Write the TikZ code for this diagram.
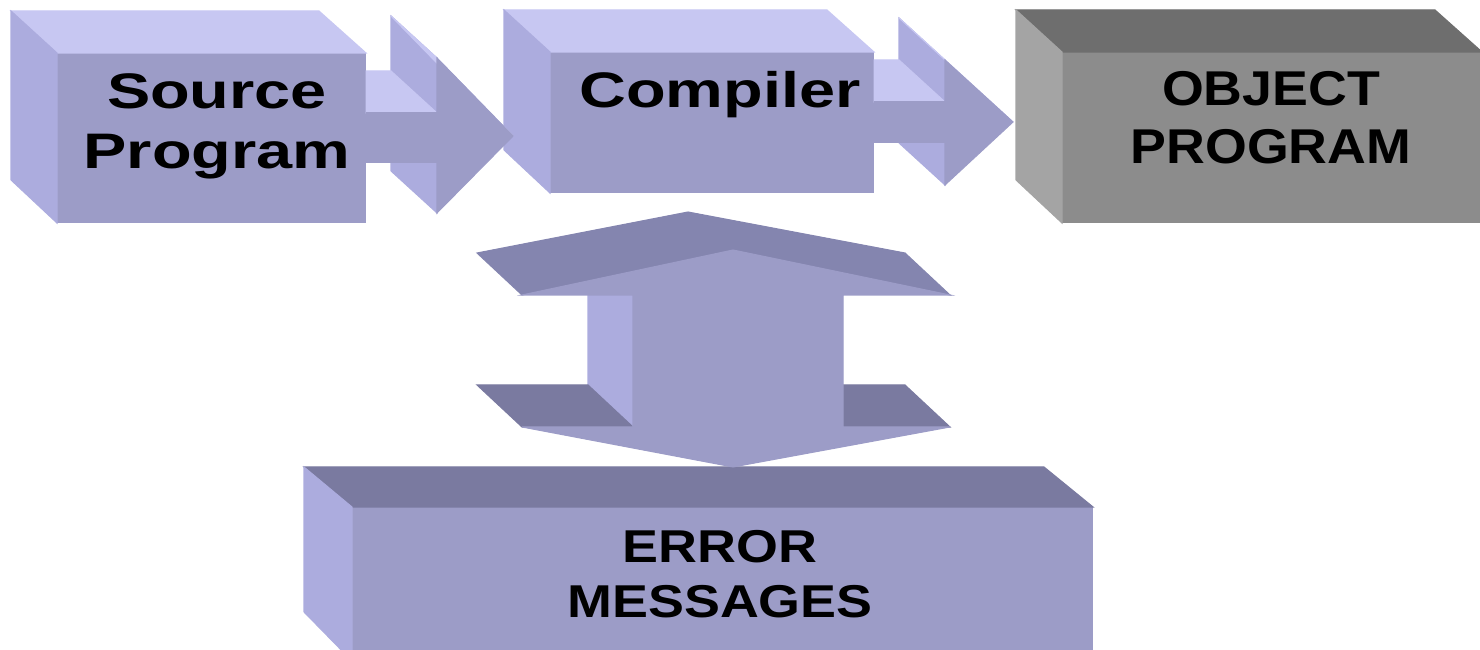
\documentclass[tikz,border=0pt]{standalone}
\usepackage{fontspec}
\setmainfont{Liberation Sans}
\newfontfamily\srcfont[FakeStretch=1.3]{Liberation Sans}
\newfontfamily\objfont[FakeStretch=1.1]{Liberation Sans}
\newfontfamily\errfont[FakeStretch=1.17]{Liberation Sans}

\definecolor{lavfront}{RGB}{156,156,199}
\definecolor{lavtop}{RGB}{199,199,242}
\definecolor{lavside}{RGB}{172,172,222}
\definecolor{lavhead}{RGB}{132,133,175}
\definecolor{lavdark}{RGB}{122,122,160}
\definecolor{greyfront}{RGB}{140,140,140}
\definecolor{greytop}{RGB}{110,110,110}
\definecolor{greyside}{RGB}{164,164,164}

\begin{document}
\begin{tikzpicture}[x=0.1mm,y=-0.1mm,line width=0.3pt,
	face/.style={fill=lavfront, draw=lavfront, inner sep=0pt, anchor=north west},
	bigtext/.style={font=\srcfont\bfseries\fontsize{14.2}{17.1}\selectfont, align=center, inner sep=0pt},
	objtext/.style={font=\objfont\bfseries\fontsize{13.9}{16.5}\selectfont, align=center, inner sep=0pt},
	errtext/.style={font=\errfont\bfseries\fontsize{13.1}{15.65}\selectfont, align=center, inner sep=0pt}]
	\useasboundingbox (0,0) rectangle (1480,650);
	\clip (0,0) rectangle (1480,650);

	% front faces
	\node (src) at (57,53) [face, minimum width=30.8mm, minimum height=16.9mm] {};
	\node (cmp) at (550,52) [face, minimum width=32.3mm, minimum height=14mm] {};
	\node (obj) at (1062,52) [face, fill=greyfront, draw=greyfront, minimum width=41.9mm, minimum height=17mm] {};
	\node (err) at (352,507) [face, minimum width=74mm, minimum height=15.3mm] {};

	% tops and sides
	\filldraw[lavtop] (src.north west) -- (11,11) -- (319,11) -- (src.north east) -- cycle;
	\filldraw[lavside] (src.north west) -- (11,11) -- (11,180) -- (src.south west) -- cycle;
	\filldraw[lavtop] (cmp.north west) -- (504,10) -- (827,10) -- (cmp.north east) -- cycle;
	\filldraw[lavside] (cmp.north west) -- (504,10) -- (504,150) -- (cmp.south west) -- cycle;
	\filldraw[greytop] (obj.north west) -- (1016,10) -- (1435,10) -- (obj.north east) -- cycle;
	\filldraw[greyside] (obj.north west) -- (1016,10) -- (1016,180) -- (obj.south west) -- cycle;
	\filldraw[lavdark] (err.north west) -- (304,467) -- (1044,467) -- (err.north east) -- cycle;
	\filldraw[lavside] (err.north west) -- (304,467) -- (304,612) -- (err.south west) -- cycle;

	% arrow source -> compiler
	\filldraw[lavside] (437,58) -- (391,16) -- (391,171) -- (437,213) -- cycle;
	\filldraw[lavtop] (437,58) -- (513,136) -- (467,94) -- (391,16) -- cycle;
	\filldraw[lavtop] (src.east |- 0,113) -- (437,113) -- (391,71) -- (src.east |- 0,71) -- cycle;
	\filldraw[lavfront] (src.east |- 0,113) rectangle (437,162);
	\filldraw[lavfront] (437,58) -- (513,136) -- (437,213) -- cycle;

	% arrow compiler -> object
	\filldraw[lavside] (945,60) -- (899,18) -- (899,143) -- (945,185) -- cycle;
	\filldraw[lavtop] (945,60) -- (1013,122) -- (967,80) -- (899,18) -- cycle;
	\filldraw[lavtop] (cmp.east |- 0,102) -- (945,102) -- (899,60) -- (cmp.east |- 0,60) -- cycle;
	\filldraw[lavfront] (cmp.east |- 0,102) rectangle (945,142);
	\filldraw[lavfront] (945,60) -- (1013,122) -- (945,185) -- cycle;

	% arrow compiler <-> error messages
	\filldraw[lavhead] (477,253) -- (688,212) -- (905,253) -- (950,295) -- (733,250) -- (522,295) -- cycle;
	\filldraw[lavside] (588,295) -- (633,295) -- (633,427) -- (588,385) -- cycle;
	\filldraw[lavdark] (477,385) -- (588,385) -- (633,427) -- (522,427) -- cycle;
	\filldraw[lavdark] (843,385) -- (905,385) -- (950,427) -- (843,427) -- cycle;
	\filldraw[lavfront] (522,295) -- (733,250) -- (950,295) -- (843,295) -- (843,427) -- (950,427)
		-- (733,467) -- (522,427) -- (633,427) -- (633,295) -- cycle;

	% texts
	\node (srcl) at (217,73.5) [bigtext, anchor=north] {Source\\Program};
	\node (cmpl) at (720,108) [bigtext, anchor=base] {Compiler};
	\node (objl) at (1271,71) [objtext, anchor=north] {OBJECT\\PROGRAM};
	\node (errl) at (720,529.5) [errtext, anchor=north] {ERROR\\MESSAGES};
\end{tikzpicture}
\end{document}
